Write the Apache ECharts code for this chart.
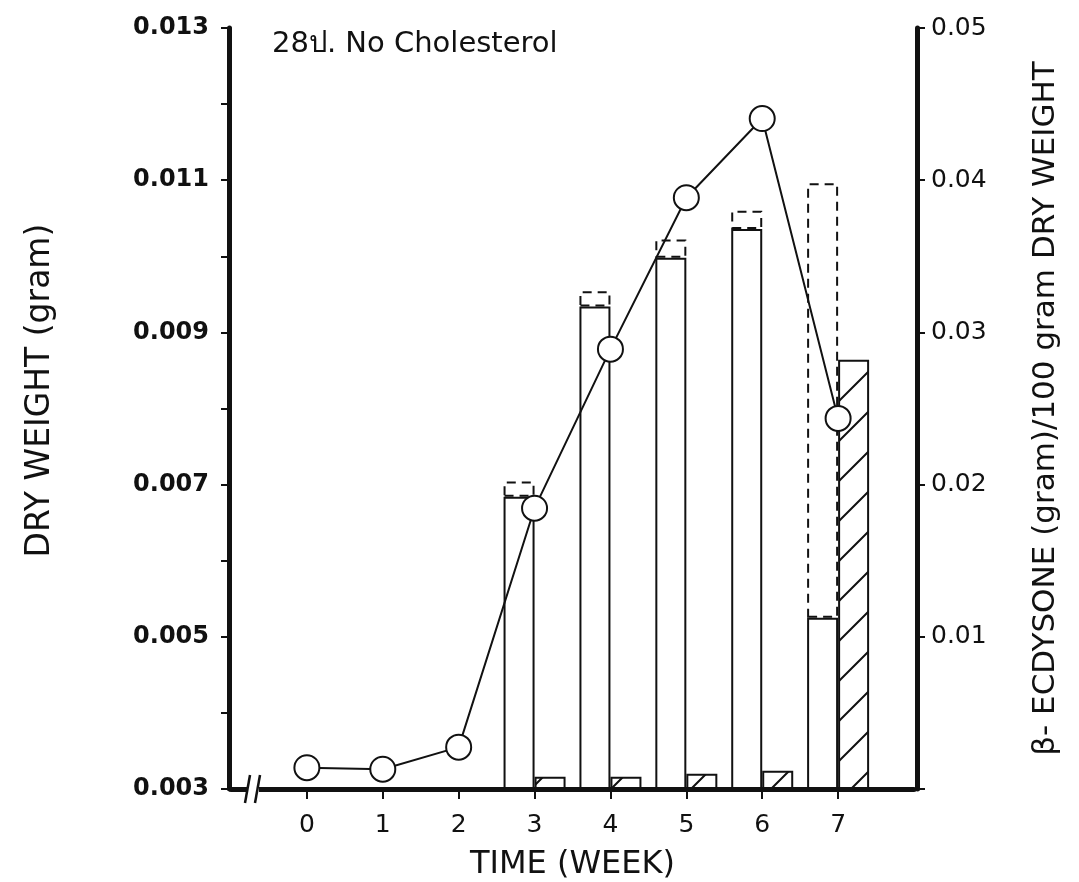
<!DOCTYPE html>
<html>
<head>
<meta charset="utf-8">
<script src="https://cdn.jsdelivr.net/npm/echarts@6/dist/echarts.min.js"></script>
<style>html,body{margin:0;padding:0;background:#fff}#c{width:1079px;height:882px}</style>
</head>
<body>
<div id="c"></div>
<script>
// ---- data ----
var weekLabels = ['0', '1', '2', '3', '4', '5', '6', '7'];
var dryWeight = [0.00328, 0.00326, 0.00355, 0.00669, 0.00878, 0.01077, 0.01181, 0.00787];
var barWeeks = ['3', '4', '5', '6', '7'];
var ecdysoneSolid = [0.0192, 0.0317, 0.0349, 0.0368, 0.01125];   // open bars, solid outline
var ecdysoneCapTop = [0.0202, 0.0327, 0.0361, 0.0380, 0.0398];  // top of dashed part
var ecdysoneHatched = [0.0008, 0.0008, 0.0010, 0.0012, 0.0282]; // hatched bars
var leftTicks = [0.003, 0.005, 0.007, 0.009, 0.011, 0.013];
var rightTicks = [0.01, 0.02, 0.03, 0.04, 0.05];

var FONT = '"DejaVu Sans", "Noto Sans", sans-serif';

// category axis: one empty slot on each side of the weeks
var cats = [''].concat(weekLabels).concat(['']);
function byCat(labels, values) {
  return cats.map(function (c) {
    var i = labels.indexOf(c);
    return (c !== '' && i >= 0) ? values[i] : null;
  });
}

// hatch pattern
var pc = document.createElement('canvas');
pc.width = 40; pc.height = 40;
var g = pc.getContext('2d');
g.fillStyle = '#fff'; g.fillRect(0, 0, 40, 40);
g.strokeStyle = '#111'; g.lineWidth = 2;
g.beginPath();
g.moveTo(0, 40); g.lineTo(40, 0);
g.moveTo(-5, 5); g.lineTo(5, -5);
g.moveTo(35, 45); g.lineTo(45, 35);
g.stroke();

var capHeights = ecdysoneCapTop.map(function (t, i) { return +(t - ecdysoneSolid[i]).toFixed(5); });

var chart = echarts.init(document.getElementById('c'), null, { renderer: 'canvas' });
chart.setOption({
  animation: false,
  backgroundColor: '#fff',
  textStyle: { fontFamily: FONT, color: '#111' },
  grid: { left: 231, right: 165, top: 28, bottom: 93, containLabel: false, outerBoundsMode: 'none' },
  xAxis: {
    type: 'category', data: cats, boundaryGap: false,
    name: 'TIME (WEEK)', nameLocation: 'middle', nameGap: 60,
    nameTextStyle: { fontSize: 32, color: '#111', fontFamily: FONT },
    axisLine: { show: true, onZero: false, lineStyle: { color: '#111', width: 5 } },
    axisTick: { show: true, inside: false, length: 10, lineStyle: { color: '#111', width: 2 },
      interval: function (i, v) { return v !== ''; } },
    axisLabel: { show: true, fontSize: 25, color: '#111', margin: 24,
      interval: function (i, v) { return v !== ''; } },
    splitLine: { show: false }
  },
  yAxis: [{
    type: 'value', min: 0.003, max: 0.013, interval: 0.001, position: 'left', offset: 2,
    name: 'DRY WEIGHT (gram)', nameLocation: 'middle', nameGap: 172, nameRotate: 90,
    nameTextStyle: { fontSize: 33, color: '#111', fontFamily: FONT, padding: [0, 0, 0, 36] },
    axisLine: { show: true, onZero: false, lineStyle: { color: '#111', width: 5 } },
    axisTick: { show: true, length: 8, lineStyle: { color: '#111', width: 2 } },
    axisLabel: { fontSize: 24, fontWeight: 'bold', color: '#111', margin: 20,
      formatter: function (v) {
        for (var i = 0; i < leftTicks.length; i++) if (Math.abs(v - leftTicks[i]) < 1e-7) return leftTicks[i].toFixed(3);
        return '';
      } },
    splitLine: { show: false }
  }, {
    type: 'value', min: 0, max: 0.05, interval: 0.01, position: 'right', offset: 3,
    name: 'β- ECDYSONE (gram)/100 gram DRY WEIGHT', nameLocation: 'middle', nameGap: 113, nameRotate: 90,
    nameTextStyle: { fontSize: 31, color: '#111', fontFamily: FONT },
    axisLine: { show: true, onZero: false, lineStyle: { color: '#111', width: 5 } },
    axisTick: { show: true, length: 8, lineStyle: { color: '#111', width: 2 } },
    axisLabel: { fontSize: 25, color: '#111', margin: 14,
      formatter: function (v) {
        for (var i = 0; i < rightTicks.length; i++) if (Math.abs(v - rightTicks[i]) < 1e-7) return rightTicks[i].toFixed(2);
        return '';
      } },
    splitLine: { show: false }
  }],
  series: [{
    name: 'open', type: 'bar', stack: 'open', yAxisIndex: 1, barWidth: 31, barGap: '0%',
    data: byCat(barWeeks, ecdysoneSolid),
    itemStyle: { color: '#fff', borderColor: '#111', borderWidth: 2 }, z: 2
  }, {
    name: 'cap', type: 'bar', stack: 'open', yAxisIndex: 1, barWidth: 31, barGap: '0%',
    data: byCat(barWeeks, capHeights),
    itemStyle: { color: '#fff', borderColor: '#111', borderWidth: 2, borderType: [9, 6] }, z: 2
  }, {
    name: 'hatched', type: 'bar', stack: 'hatch', yAxisIndex: 1, barWidth: 31, barGap: '0%',
    data: byCat(barWeeks, ecdysoneHatched),
    itemStyle: { color: { image: pc, repeat: 'repeat' }, borderColor: '#111', borderWidth: 2 }, z: 2
  }, {
    name: 'dry', type: 'line', yAxisIndex: 0, data: byCat(weekLabels, dryWeight),
    symbol: 'circle', symbolSize: 25,
    lineStyle: { color: '#111', width: 2 },
    itemStyle: { color: '#fff', borderColor: '#111', borderWidth: 2 },
    z: 5
  }],
  graphic: [
    { type: 'text', left: 272, top: 30, z: 10,
      style: { text: '28ป. No Cholesterol', font: '29px ' + FONT, fill: '#111' } },
    { type: 'rect', shape: { x: 247, y: 785, width: 12, height: 9 }, style: { fill: '#fff' }, z: 10 },
    { type: 'line', shape: { x1: 245, y1: 803, x2: 250, y2: 775 }, style: { stroke: '#111', lineWidth: 2.5 }, z: 11 },
    { type: 'line', shape: { x1: 255, y1: 803, x2: 260, y2: 775 }, style: { stroke: '#111', lineWidth: 2.5 }, z: 11 }
  ]
});
</script>
</body>
</html>
